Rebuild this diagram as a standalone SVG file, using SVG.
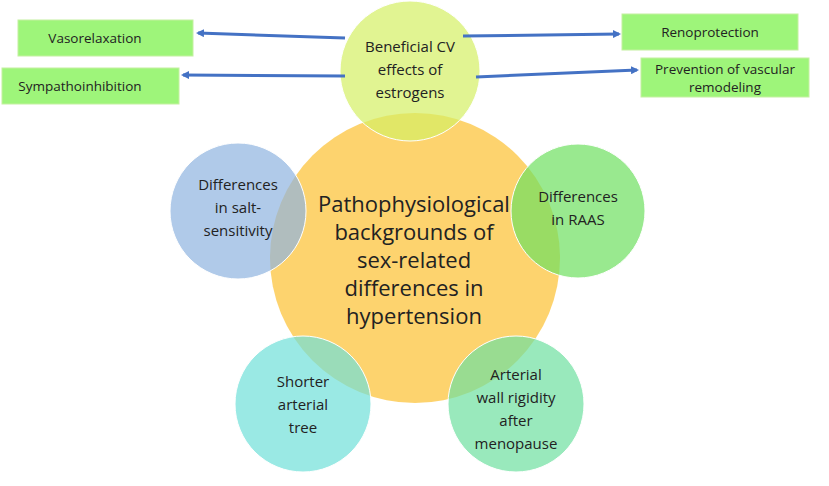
<svg xmlns="http://www.w3.org/2000/svg" width="829" height="486" viewBox="0 0 829 486">
<style>
text{font-family:"Open Sans","Liberation Sans",sans-serif;fill:#222;text-anchor:middle}
.b{fill:#9ef57a;stroke:#c4f0a0;stroke-width:1}
.bt{font-size:13.5px}
.ct{font-size:15px}
.c{stroke:#ffffff;stroke-width:1;fill-opacity:0.7}
</style>
<defs><marker id="ah" markerWidth="8" markerHeight="8" refX="6" refY="4" orient="auto" markerUnits="userSpaceOnUse"><path d="M0,0 L8,4 L0,8 z" fill="#4472c4"/></marker></defs>
<rect width="829" height="486" fill="#fff"/>
<g id="center"><circle cx="415" cy="258" r="145" fill="#fdc84a" fill-opacity="0.8"/>
<text font-size="22px"><tspan x="414" y="212">Pathophysiological</tspan><tspan x="414" y="240">backgrounds of</tspan><tspan x="414" y="268">sex-related</tspan><tspan x="414" y="296">differences in</tspan><tspan x="414" y="324">hypertension</tspan></text></g>
<g id="top"><circle class="c" cx="410" cy="71" r="70" fill="#d4f064"/>
<text class="ct"><tspan x="410" y="52">Beneficial CV</tspan><tspan x="410" y="75">effects of</tspan><tspan x="410" y="98">estrogens</tspan></text></g>
<g id="left"><circle class="c" cx="238" cy="211" r="68" fill="#8fb4e0"/>
<text class="ct"><tspan x="238" y="190">Differences</tspan><tspan x="238" y="213">in salt-</tspan><tspan x="238" y="236">sensitivity</tspan></text></g>
<g id="right"><circle class="c" cx="578" cy="211" r="67" fill="#6ee060"/>
<text class="ct"><tspan x="578" y="202">Differences</tspan><tspan x="578" y="225">in RAAS</tspan></text></g>
<g id="bl"><circle class="c" cx="303" cy="404" r="68" fill="#6fe0d8"/>
<text class="ct"><tspan x="303" y="387">Shorter</tspan><tspan x="303" y="410">arterial</tspan><tspan x="303" y="433">tree</tspan></text></g>
<g id="br"><circle class="c" cx="516" cy="404" r="68" fill="#6ee0a0"/>
<text class="ct"><tspan x="516" y="380">Arterial</tspan><tspan x="516" y="403">wall rigidity</tspan><tspan x="516" y="426">after</tspan><tspan x="516" y="449">menopause</tspan></text></g>
<g id="vaso"><rect class="b" x="18" y="20" width="175" height="36"/><text class="bt" x="95" y="43">Vasorelaxation</text></g>
<g id="symp"><rect class="b" x="2" y="68" width="177" height="36"/><text class="bt" x="80" y="91">Sympathoinhibition</text></g>
<g id="reno"><rect class="b" x="622" y="14" width="176" height="36"/><text class="bt" x="710" y="37">Renoprotection</text></g>
<g id="prev"><rect class="b" x="641" y="58" width="168" height="39"/><text class="bt"><tspan x="725" y="74">Prevention of vascular</tspan><tspan x="725" y="92">remodeling</tspan></text></g>
<g id="connectors" stroke="#4472c4" stroke-width="3" marker-end="url(#ah)">
<line x1="345" y1="38" x2="198" y2="33"/>
<line x1="345" y1="76" x2="183" y2="75"/>
<line x1="463" y1="36" x2="619" y2="34"/>
<line x1="476" y1="77" x2="637" y2="70"/>
</g>
</svg>
